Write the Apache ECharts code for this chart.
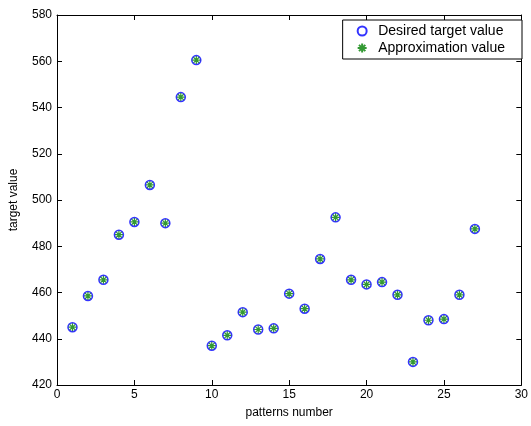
<!DOCTYPE html>
<html>
<head>
<meta charset="utf-8">
<script src="https://cdn.jsdelivr.net/npm/echarts@6/dist/echarts.min.js"></script>
<style>
  html, body { margin: 0; padding: 0; background: #fff; }
</style>
</head>
<body>
<div id="main" style="width: 531px; height: 426px"></div>
<script>
// pattern index and target values
const patterns = [1, 2, 3, 4, 5, 6, 7, 8, 9, 10, 11, 12, 13, 14, 15, 16, 17, 18, 19, 20, 21, 22, 23, 24, 25, 26, 27];
const desired = [445, 458.5, 465.5, 485, 490.5, 506.5, 490, 544.5, 560.5, 437, 441.5, 451.5, 444, 444.5, 459.5, 453, 474.5, 492.5, 465.5, 463.5, 464.5, 459, 430, 448, 448.5, 459, 487.5];
const approx = [445, 458.5, 465.5, 485, 490.5, 506.5, 490, 544.5, 560.5, 437, 441.5, 451.5, 444, 444.5, 459.5, 453, 474.5, 492.5, 465.5, 463.5, 464.5, 459, 430, 448, 448.5, 459, 487.5];

const star = "path://M0,-5L0,5M-5,0L5,0M-3.5,-3.5L3.5,3.5M-3.5,3.5L3.5,-3.5";
const font = "Liberation Sans";

const chart = echarts.init(document.getElementById("main"));

const axisBase = {
  type: "value",
  axisLine: { show: true, onZero: false, lineStyle: { color: "#000", width: 1 } },
  axisTick: { show: true, inside: true, length: 5, lineStyle: { color: "#000" } },
  splitLine: { show: false },
  axisLabel: { color: "#000", fontFamily: font, fontSize: 12 },
};

chart.setOption({
  animation: false,
  textStyle: { fontFamily: font },
  grid: { left: 57, right: 5, top: 15, bottom: 41 },
  legend: {
    right: 9,
    top: 20,
    orient: "vertical",
    backgroundColor: "#fff",
    borderColor: "#000",
    borderWidth: 1,
    borderRadius: 0,
    padding: [4, 17, 4, 14],
    itemGap: 3,
    itemWidth: 14,
    itemHeight: 9,
    textStyle: { color: "#000", fontFamily: font, fontSize: 14, padding: [0, 0, 0, 4] },
    data: ["Desired target value", "Approximation value"],
  },
  xAxis: [
    Object.assign({}, axisBase, {
      min: 0, max: 30, interval: 5,
      name: "patterns number",
      nameLocation: "middle",
      nameGap: 22,
      nameTextStyle: { color: "#000", fontFamily: font, fontSize: 12 },
      axisLabel: Object.assign({}, axisBase.axisLabel, { margin: 4 }),
    }),
    Object.assign({}, axisBase, {
      min: 0, max: 30, interval: 5, position: "top",
      axisLabel: { show: false },
    }),
  ],
  yAxis: [
    Object.assign({}, axisBase, {
      min: 420, max: 580, interval: 20,
      name: "target value",
      nameLocation: "middle",
      nameGap: 37,
      nameTextStyle: { color: "#000", fontFamily: font, fontSize: 12 },
      axisLabel: Object.assign({}, axisBase.axisLabel, { margin: 5 }),
    }),
    Object.assign({}, axisBase, {
      min: 420, max: 580, interval: 20, position: "right",
      axisLabel: { show: false },
    }),
  ],
  series: [
    {
      name: "Desired target value",
      type: "scatter",
      symbol: "circle",
      symbolSize: 9,
      itemStyle: { color: "transparent", borderColor: "#0000ff", borderWidth: 1.5 },
      data: patterns.map((p, i) => [p, desired[i]]),
    },
    {
      name: "Approximation value",
      type: "scatter",
      symbol: star,
      symbolSize: 8,
      itemStyle: { color: "#008000", borderColor: "#008000", borderWidth: 1.2 },
      data: patterns.map((p, i) => [p, approx[i]]),
    },
  ],
});
</script>
</body>
</html>
